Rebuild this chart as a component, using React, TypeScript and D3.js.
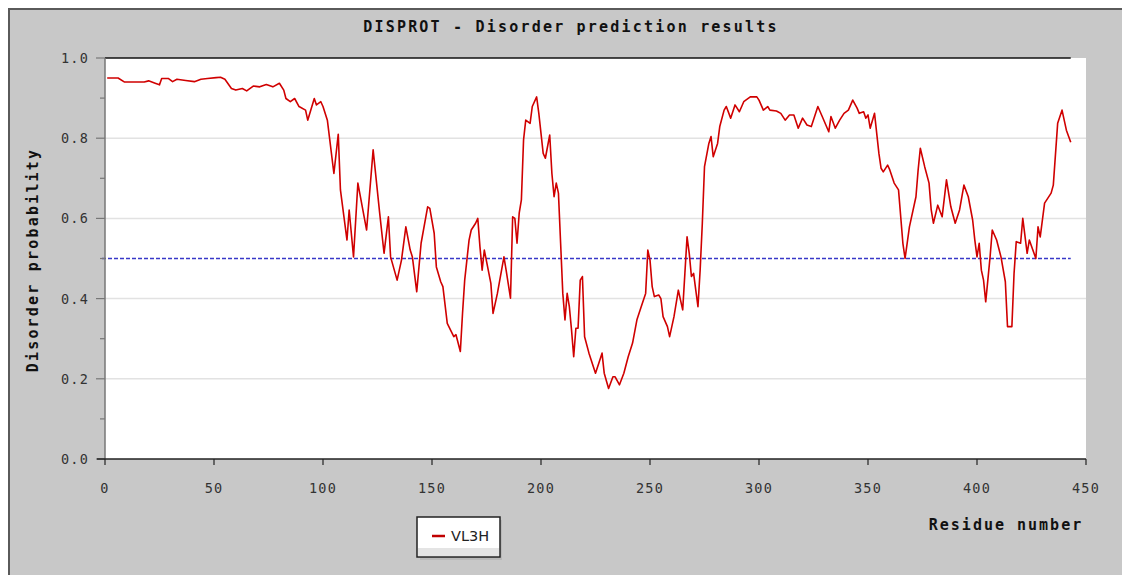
import React from "react";
import * as d3 from "d3";

const residues = [1,6,9,18,20,23,25,26,29,31,33,37,41,44,47,51,53,55,58,60,63,65,68,71,74,77,80,82,83,85,87,89,92,93,96,97,99,100,102,105,107,108,111,112,114,116,120,123,126,128,130,131,134,136,138,140,141,143,145,148,149,151,152,154,155,157,160,161,163,164,165,167,168,170,171,172,173,174,177,178,180,183,184,186,187,188,189,190,191,192,193,195,196,198,199,201,202,204,205,206,207,208,209,210,211,212,213,214,215,216,217,218,219,220,222,225,227,228,229,231,233,234,236,238,240,242,244,246,248,249,250,251,252,254,255,256,258,259,261,263,264,265,266,267,268,269,270,271,272,273,274,275,277,278,279,281,282,284,285,287,289,291,293,296,299,300,302,304,305,308,310,312,314,316,318,320,322,324,327,329,332,333,335,337,339,341,343,345,346,348,349,350,351,353,355,356,357,359,360,362,364,366,367,369,372,373,374,376,378,379,380,382,384,386,388,390,392,394,396,398,399,400,401,402,403,404,406,407,409,411,413,414,416,417,418,420,421,423,424,427,428,429,431,434,435,437,439,441,443];
const vl3h = [0.95,0.95,0.94,0.94,0.943,0.937,0.933,0.949,0.949,0.941,0.947,0.944,0.941,0.947,0.949,0.951,0.952,0.947,0.924,0.92,0.924,0.918,0.93,0.928,0.934,0.928,0.937,0.92,0.899,0.891,0.899,0.879,0.87,0.845,0.899,0.883,0.891,0.879,0.845,0.712,0.81,0.671,0.546,0.621,0.504,0.688,0.571,0.771,0.613,0.513,0.604,0.504,0.446,0.496,0.579,0.521,0.504,0.417,0.538,0.629,0.625,0.563,0.479,0.442,0.43,0.338,0.305,0.31,0.268,0.363,0.446,0.546,0.571,0.588,0.6,0.529,0.471,0.521,0.438,0.363,0.413,0.504,0.471,0.401,0.604,0.6,0.538,0.613,0.646,0.796,0.845,0.837,0.879,0.903,0.862,0.762,0.75,0.808,0.712,0.654,0.688,0.663,0.538,0.413,0.347,0.413,0.38,0.322,0.255,0.326,0.326,0.446,0.455,0.305,0.264,0.214,0.247,0.264,0.214,0.176,0.205,0.205,0.185,0.214,0.255,0.289,0.347,0.38,0.413,0.521,0.496,0.43,0.405,0.409,0.4,0.355,0.33,0.305,0.355,0.421,0.396,0.372,0.463,0.554,0.513,0.455,0.463,0.421,0.38,0.471,0.588,0.729,0.787,0.804,0.754,0.787,0.829,0.87,0.879,0.85,0.883,0.866,0.891,0.903,0.903,0.895,0.87,0.879,0.87,0.868,0.862,0.845,0.858,0.858,0.825,0.85,0.833,0.829,0.879,0.854,0.816,0.854,0.825,0.845,0.862,0.87,0.895,0.875,0.862,0.866,0.85,0.858,0.825,0.862,0.762,0.725,0.716,0.733,0.721,0.688,0.671,0.538,0.5,0.579,0.654,0.721,0.775,0.729,0.688,0.621,0.588,0.633,0.604,0.696,0.629,0.588,0.621,0.683,0.654,0.596,0.546,0.504,0.538,0.471,0.446,0.392,0.504,0.571,0.546,0.504,0.442,0.33,0.33,0.463,0.542,0.538,0.6,0.513,0.546,0.5,0.579,0.554,0.638,0.663,0.683,0.837,0.87,0.82,0.79];

const xTicks = [0, 50, 100, 150, 200, 250, 300, 350, 400, 450];
const yTicks = [0.0, 0.2, 0.4, 0.6, 0.8, 1.0];
const yMinorTicks = [0.1, 0.3, 0.5, 0.7, 0.9];
const gridValues = [0.2, 0.4, 0.6, 0.8];
const threshold = 0.5;
const titleText = "DISPROT - Disorder prediction results";
const xLabel = "Residue number";
const yLabel = "Disorder probability";
const seriesName = "VL3H";

export default function App() {
  const W = 1122, H = 575;
  const x = d3.scaleLinear().domain([0, 450]).range([105, 1086]);
  const y = d3.scaleLinear().domain([0, 1]).range([459, 58]);
  const pts: [number, number][] = residues.map((r, i) => [r, vl3h[i]]);
  const line = d3.line<[number, number]>().x(d => x(d[0])).y(d => y(d[1]));
  const lastX = x(residues[residues.length - 1]);
  const mono = "'DejaVu Sans Mono', monospace";

  return (
    <svg width={W} height={H} style={{ position: "absolute", left: 0, top: 0, display: "block", background: "#fff" }}>
      {/* panel */}
      <rect x={9} y={9} width={W + 10} height={H + 10} fill="#c8c8c8" stroke="#5a5a5a" strokeWidth={2} />
      {/* plot area */}
      <rect x={x(0)} y={y(1)} width={x(450) - x(0)} height={y(0) - y(1)} fill="#ffffff" />
      {gridValues.map(v => (
        <line key={"g" + v} x1={x(0)} x2={x(450)} y1={y(v)} y2={y(v)} stroke="#e2e2e2" strokeWidth={1.5} />
      ))}
      <line x1={x(0)} x2={lastX} y1={y(1)} y2={y(1)} stroke="#111" strokeWidth={1.5} />
      {/* threshold */}
      <line x1={x(0) - 3} x2={lastX} y1={y(threshold)} y2={y(threshold)} stroke="#3838c8" strokeWidth={1.3} strokeDasharray="4,2" />
      {/* series */}
      <path d={line(pts) || ""} fill="none" stroke="#d00000" strokeWidth={1.6} strokeLinejoin="round" />
      {/* y axis */}
      <line x1={x(0)} x2={x(0)} y1={y(1)} y2={y(0)} stroke="#777" strokeWidth={1.5} />
      {yTicks.map(v => (
        <g key={"yt" + v}>
          <line x1={x(0) - 9} x2={x(0)} y1={y(v)} y2={y(v)} stroke="#777" strokeWidth={1.2} />
          <text x={89} y={y(v) + 5} textAnchor="end" fontFamily={mono} fontSize={13.5} letterSpacing={1.2} fill="#333">
            {v.toFixed(1)}
          </text>
        </g>
      ))}
      {yMinorTicks.map(v => (
        <line key={"ym" + v} x1={x(0) - 5} x2={x(0)} y1={y(v)} y2={y(v)} stroke="#777" strokeWidth={1.2} />
      ))}
      {/* x axis */}
      <line x1={x(0) - 8} x2={x(450)} y1={y(0)} y2={y(0)} stroke="#222" strokeWidth={1.5} />
      {xTicks.map(t => (
        <g key={"xt" + t}>
          <line x1={x(t)} x2={x(t)} y1={y(0)} y2={y(0) + 6} stroke="#222" strokeWidth={1.2} />
          <text x={x(t)} y={493} textAnchor="middle" fontFamily={mono} fontSize={13.5} letterSpacing={1.2} fill="#333">
            {t}
          </text>
        </g>
      ))}
      {/* titles */}
      <text x={571} y={32} textAnchor="middle" fontFamily={mono} fontWeight="bold" fontSize={15} letterSpacing={2.2} fill="#111">
        {titleText}
      </text>
      <text x={1006} y={530} textAnchor="middle" fontFamily={mono} fontWeight="bold" fontSize={15} letterSpacing={2.0} fill="#111">
        {xLabel}
      </text>
      <text transform="translate(38,260) rotate(-90)" textAnchor="middle" fontFamily={mono} fontWeight="bold" fontSize={15} letterSpacing={2.2} fill="#111">
        {yLabel}
      </text>
      {/* legend */}
      <rect x={420} y={520} width={82} height={40} fill="#a8a8a8" opacity={0.5} />
      <rect x={417} y={517} width={83} height={40} fill="#ffffff" stroke="#222" strokeWidth={1.5} />
      <rect x={418} y={548} width={81} height={8} fill="#e4e4e4" />
      <line x1={432} x2={445} y1={536} y2={536} stroke="#c00000" strokeWidth={2.5} />
      <text x={451} y={541} fontFamily="'DejaVu Sans', sans-serif" fontSize={14.5} fill="#222">
        {seriesName}
      </text>
    </svg>
  );
}
